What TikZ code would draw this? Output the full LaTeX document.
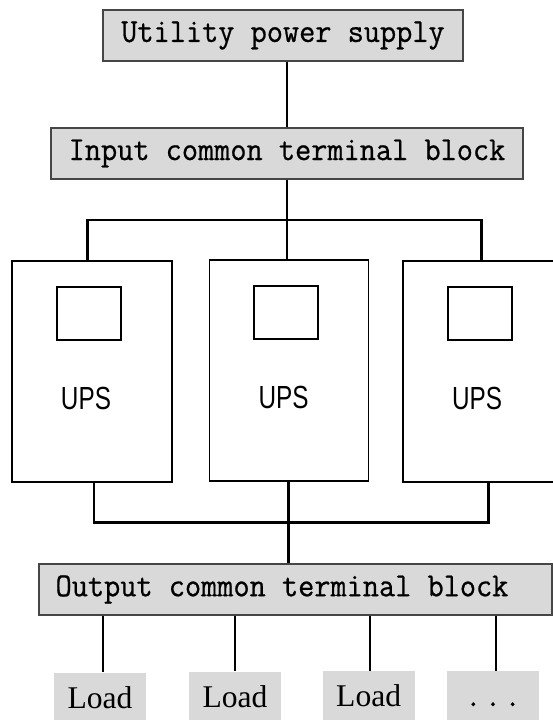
\documentclass[tikz,border=0pt]{standalone}
\usepackage{fontspec}
\usepackage{graphicx}
\newfontfamily\loadfont{Liberation Serif}
\newfontfamily\upsfont{Liberation Sans}
\newfontfamily\termfont{Latin Modern Mono}[FakeBold=0.7]
\definecolor{boxgray}{RGB}{217,217,217}
\definecolor{edgegray}{RGB}{70,70,70}
\newcommand{\termtext}[1]{\scalebox{1}[1.07]{\termfont\fontsize{31.4}{34}\selectfont #1}}
\begin{document}
\begin{tikzpicture}[x=1pt,y=-1pt,
  termbox/.style={draw=edgegray, fill=boxgray, line width=1.3pt, inner sep=0pt},
  monotext/.style={inner sep=0pt},
  loadbox/.style={fill=boxgray, draw=none, inner sep=0pt, minimum width=92pt, minimum height=50pt,
                  font=\loadfont\fontsize{31.6}{34}\selectfont},
  upsbox/.style={draw=black, line width=1.5pt, inner sep=0pt},
  screen/.style={draw=black, line width=1.5pt, inner sep=0pt, minimum width=64pt, minimum height=53pt},
  upslabel/.style={font=\upsfont\fontsize{32}{34}\selectfont, inner sep=0pt, anchor=base},
  wire/.style={draw=black, line width=2.2pt}]
\useasboundingbox (0,0) rectangle (552,720);

% terminal boxes
\node[termbox, minimum width=360pt, minimum height=51pt] (util) at (283,35.5)
  {\termtext{Utility power supply}};
\node[termbox, minimum width=472pt, minimum height=51pt] (inp) at (287,153.5)
  {\termtext{Input common terminal block}};
\node[termbox, minimum width=513pt, minimum height=51pt] (out) at (295.5,589.5) {};
\node[monotext] (outtxt) at (282,589.5) {\termtext{Output common terminal block}};

% UPS cabinets
\node[upsbox, minimum width=160pt, minimum height=221pt] (ups1) at (92,371.5) {};
\node[upsbox, minimum width=159pt, minimum height=221pt] (ups2) at (289,370.5) {};
\node[upsbox, minimum width=160pt, minimum height=221pt] (ups3) at (483,371.5) {};
\node[screen] (scr1) at (89,313.5) {};
\node[screen] (scr2) at (286,312.5) {};
\node[screen] (scr3) at (480,313.5) {};
\node[upslabel] (lab1) at (86,409) {\scalebox{0.76}[1]{UPS}};
\node[upslabel] (lab2) at (283.5,408) {\scalebox{0.76}[1]{UPS}};
\node[upslabel] (lab3) at (477,409) {\scalebox{0.76}[1]{UPS}};

% loads
\node[loadbox] (load1) at (100,697.5) {Load};
\node[loadbox] (load2) at (235,696.5) {Load};
\node[loadbox] (load3) at (368.7,695.7) {Load};
\node[loadbox] (load4) at (493,696) {\termtext{\vphantom{Ld}.\hspace{3.5pt}.\hspace{3.5pt}.}};

% helper coordinates
\coordinate (busL) at (87.5,220);
\coordinate (busM) at (287,220);
\coordinate (busR) at (481.5,220);
\coordinate (obL) at (94,522.5);
\coordinate (obM) at (288.5,522.5);
\coordinate (obR) at (488.5,522.5);
\coordinate (x1) at (103,0);
\coordinate (x2) at (235,0);
\coordinate (x3) at (370,0);
\coordinate (x4) at (496,0);

% connectors
\draw[wire] (util.south -| inp.north) -- (inp.north);
\draw[wire] (inp.south -| busM) -- (busM);
\draw[wire] (ups1.north -| busL) -- (busL) -- (busR) -- (ups3.north -| busR);
\draw[wire] (busM) -- (ups2.north -| busM);
\draw[wire] (ups1.south -| obL) -- (obL) -- (obR) -- (ups3.south -| obR);
\draw[wire] (ups2.south -| obM) -- (out.north -| obM);
\draw[wire] (out.south -| x1) -- (load1.north -| x1);
\draw[wire] (out.south -| x2) -- (load2.north -| x2);
\draw[wire] (out.south -| x3) -- (load3.north -| x3);
\draw[wire] (out.south -| x4) -- (load4.north -| x4);
\end{tikzpicture}
\end{document}
